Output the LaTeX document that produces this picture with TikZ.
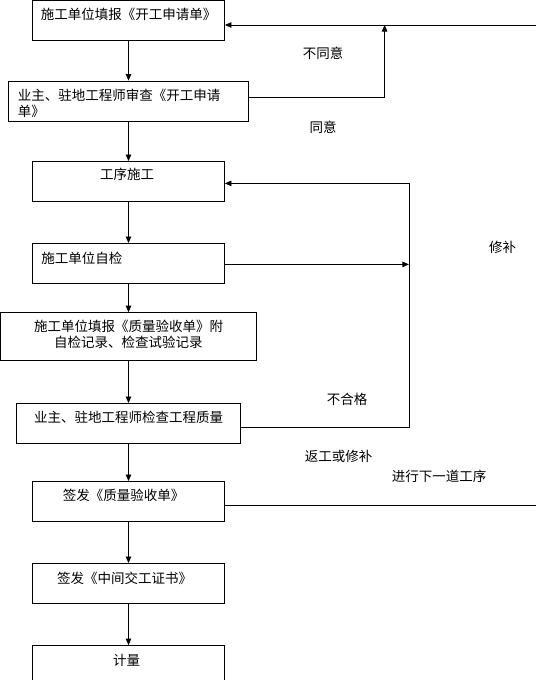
\documentclass[tikz,border=0pt]{standalone}
\usepackage{fontspec}
\setmainfont{Noto Sans CJK SC}
\usepackage{tikz}
\usetikzlibrary{arrows.meta}
\usetikzlibrary{positioning,calc}

\tikzset{
  box/.style={draw,line width=0.8pt,minimum height=40pt,inner sep=0pt},
  boxlabel/.style={anchor=center,inner sep=0pt,align=center},
  leftlabel/.style={anchor=west,inner sep=0pt,align=left},
  flow/.style={line width=0.8pt,-{Triangle[length=6.5pt,width=5.5pt]}},
  link/.style={line width=0.8pt},
  note/.style={inner sep=0pt}
}

\begin{document}
\begin{tikzpicture}[x=1pt,y=-1pt,font=\fontsize{13.5}{16}\selectfont]
    \useasboundingbox (0,0) rectangle (536,680);
    \clip (0,0) rectangle (536,680);

    % main column of steps
    \node[box,minimum width=192pt,
      label={[boxlabel,yshift=-14pt]north:施工单位填报《开工申请单》}]
      (apply) at (128.5,20.5) {};
    \node[box,minimum width=240pt,
      label={[leftlabel,xshift=9.5pt,yshift=-22.3pt]north west:业主、驻地工程师审查《开工申请\\单》}]
      (review) at (128.5,101) {};
    \node[box,minimum width=192pt,
      label={[boxlabel,xshift=-1.5pt,yshift=-13.5pt]north:工序施工}]
      (work) at (128.5,181.4) {};
    \node[box,minimum width=192pt,
      label={[leftlabel,xshift=9pt,yshift=-15pt]north west:施工单位自检}]
      (self) at (128.5,263.4) {};
    \node[box,minimum width=256pt,minimum height=48pt,
      label={[boxlabel,yshift=-21.8pt]north:施工单位填报《质量验收单》附\\自检记录、检查试验记录}]
      (form) at (128.5,336.6) {};
    \node[box,minimum width=224pt,
      label={[boxlabel,yshift=-14.4pt]north:业主、驻地工程师检查工程质量}]
      (check) at (128.5,423.4) {};
    \node[box,minimum width=192pt,
      label={[boxlabel,xshift=-5pt,yshift=-14.3pt]north:签发《质量验收单》}]
      (sign) at (128.5,501.4) {};
    \node[box,minimum width=192pt,
      label={[boxlabel,xshift=-4pt,yshift=-15pt]north:签发《中间交工证书》}]
      (cert) at (128.5,583.4) {};
    \node[box,minimum width=192pt,
      label={[boxlabel,xshift=-2pt,yshift=-15pt]north:计量}]
      (pay) at (128.5,665.5) {};

    \draw[flow] (apply) -- (review);
    \draw[flow] (review) -- (work);
    \draw[flow] (work) -- (self);
    \draw[flow] (self) -- (form);
    \draw[flow] (form) -- (check);
    \draw[flow] (check) -- (sign);
    \draw[flow] (sign) -- (cert);
    \draw[flow] (cert) -- (pay);

    % return paths on the right
    \coordinate (back) at (536,25);
    \coordinate (deny) at (384.6,97);
    \coordinate (selfjoin) at (408.9,264.4);
    \coordinate (failjoin) at (408.9,427.5);
    \coordinate (redo) at (408.9,183.4);
    \coordinate (next) at (536,505.5);

    \draw[flow] (back) -- (back -| apply.east);
    \draw[flow] (deny -| review.east) -- (deny) -- (deny |- back);
    \draw[flow] (selfjoin -| self.east) -- (selfjoin);
    \draw[flow] (failjoin -| check.east) -- (failjoin) -- (redo) -- (redo -| work.east);
    \draw[link] (next -| sign.east) -- (next);

    \node[note] (nodeny) at (323,53.5) {不同意};
    \node[note] (noagree) at (323,127.5) {同意};
    \node[note] (nofix) at (502.6,247.5) {修补};
    \node[note] (nofail) at (347,399.5) {不合格};
    \node[note] (norework) at (338.5,456.5) {返工或修补};
    \node[note] (nonext) at (439,476.5) {进行下一道工序};
\end{tikzpicture}
\end{document}
